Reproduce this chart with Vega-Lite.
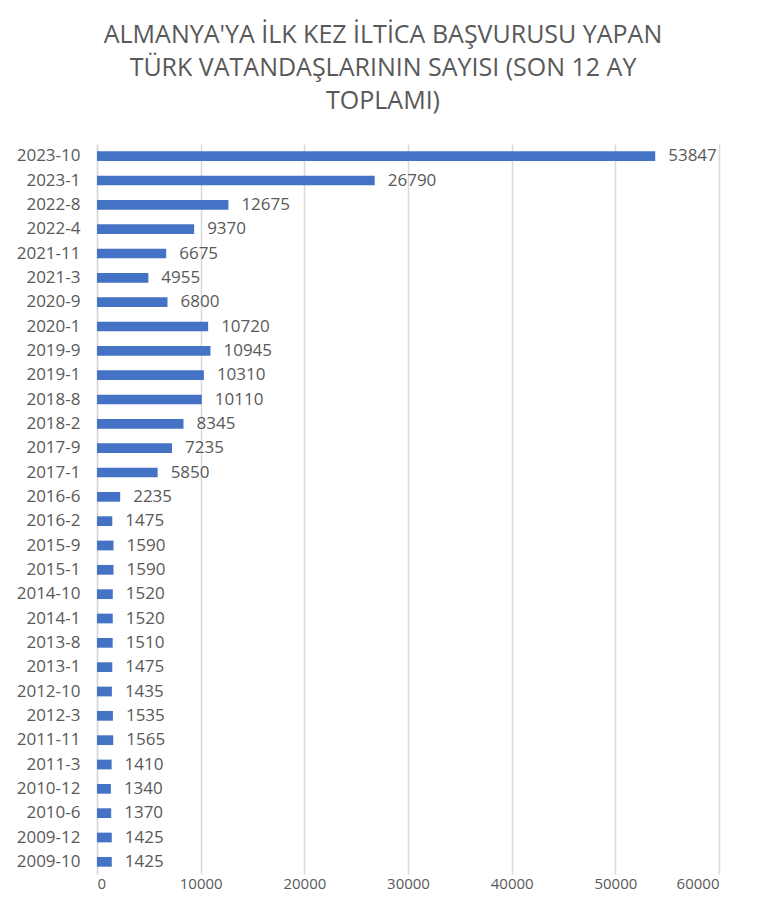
{
  "$schema": "https://vega.github.io/schema/vega-lite/v6.json",
  "autosize": "none",
  "width": 622,
  "height": 730,
  "padding": {"left": 97, "top": 144, "right": 49, "bottom": 49},
  "background": "white",
  "title": {
    "text": ["ALMANYA'YA İLK KEZ İLTİCA  BAŞVURUSU YAPAN", "TÜRK VATANDAŞLARININ SAYISI (SON 12 AY", "TOPLAMI)"],
    "anchor": "middle",
    "dx": -25,
    "offset": 30,
    "font": "Open Sans",
    "fontSize": 25,
    "fontWeight": "normal",
    "color": "#595959",
    "lineHeight": 33
  },
  "config": {
    "view": {"stroke": null},
    "font": "Open Sans"
  },
  "data": {
    "values": [
      {"period": "2023-10", "count": 53847},
      {"period": "2023-1", "count": 26790},
      {"period": "2022-8", "count": 12675},
      {"period": "2022-4", "count": 9370},
      {"period": "2021-11", "count": 6675},
      {"period": "2021-3", "count": 4955},
      {"period": "2020-9", "count": 6800},
      {"period": "2020-1", "count": 10720},
      {"period": "2019-9", "count": 10945},
      {"period": "2019-1", "count": 10310},
      {"period": "2018-8", "count": 10110},
      {"period": "2018-2", "count": 8345},
      {"period": "2017-9", "count": 7235},
      {"period": "2017-1", "count": 5850},
      {"period": "2016-6", "count": 2235},
      {"period": "2016-2", "count": 1475},
      {"period": "2015-9", "count": 1590},
      {"period": "2015-1", "count": 1590},
      {"period": "2014-10", "count": 1520},
      {"period": "2014-1", "count": 1520},
      {"period": "2013-8", "count": 1510},
      {"period": "2013-1", "count": 1475},
      {"period": "2012-10", "count": 1435},
      {"period": "2012-3", "count": 1535},
      {"period": "2011-11", "count": 1565},
      {"period": "2011-3", "count": 1410},
      {"period": "2010-12", "count": 1340},
      {"period": "2010-6", "count": 1370},
      {"period": "2009-12", "count": 1425},
      {"period": "2009-10", "count": 1425}
    ]
  },
  "encoding": {
    "y": {
      "field": "period",
      "type": "nominal",
      "sort": null,
      "scale": {"paddingInner": 0.6, "paddingOuter": 0.3},
      "axis": {
        "title": null,
        "ticks": false,
        "domain": true,
        "domainColor": "#d9d9d9",
        "domainWidth": 1.5,
        "labelPadding": 17,
        "labelFontSize": 17,
        "labelColor": "#595959",
        "labelFont": "Open Sans"
      }
    },
    "x": {
      "field": "count",
      "type": "quantitative",
      "scale": {"domain": [0, 60000], "nice": false},
      "axis": {
        "title": null,
        "values": [0, 10000, 20000, 30000, 40000, 50000, 60000],
        "format": "d",
        "ticks": false,
        "domain": false,
        "grid": true,
        "gridColor": "#d9d9d9",
        "gridWidth": 1.5,
        "labelPadding": 2,
        "labelFontSize": 15,
        "labelColor": "#595959",
        "labelFont": "Open Sans"
      }
    }
  },
  "layer": [
    {"mark": {"type": "bar", "color": "#4472C4"}},
    {
      "mark": {"type": "text", "align": "left", "baseline": "middle", "dx": 13, "fontSize": 17, "color": "#595959", "font": "Open Sans"},
      "encoding": {"text": {"field": "count", "type": "quantitative", "format": "d"}}
    }
  ]
}
